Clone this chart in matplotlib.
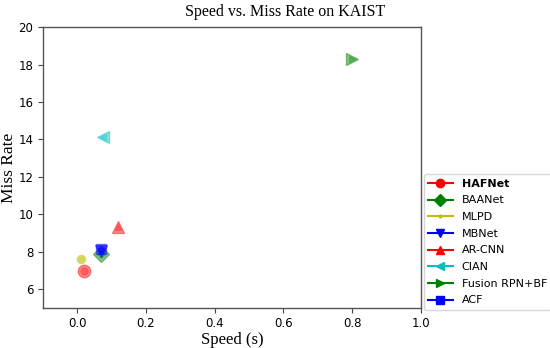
import matplotlib.pyplot as plt
from matplotlib.lines import Line2D

methods = ['HAFNet', 'BAANet', 'MLPD', 'MBNet', 'AR-CNN', 'CIAN', 'Fusion RPN+BF', 'ACF']
speed = [0.02, 0.07, 0.012, 0.07, 0.12, 0.075, 0.80, 0.07]
miss_rate = [6.95, 7.85, 7.58, 8.05, 9.32, 14.13, 18.29, 8.15]
colors = ['r', 'g', 'y', 'b', 'r', 'c', 'g', 'b']
markers = ['o', 'D', '.', 'v', '^', '<', '>', 's']
sizes = [9, 8, 12, 8, 9, 9, 9, 7]

fig = plt.figure(figsize=(5.5, 3.48), dpi=100)
ax = fig.add_axes([0.078, 0.116, 0.687, 0.806])

handles = []
for i in range(len(methods)):
    ax.plot([speed[i]], [miss_rate[i]], marker=markers[i], color=colors[i],
            markersize=sizes[i], alpha=0.45, linestyle='none')
    ax.plot([speed[i]], [miss_rate[i]], marker=markers[i], color=colors[i],
            markersize=sizes[i] * 0.55, alpha=0.3, linestyle='none')
    handles.append(Line2D([0], [0], color=colors[i], marker=markers[i],
                          markersize=6 if markers[i] != '.' else 4, lw=1.5))

ax.set_xlim(-0.1, 1.0)
ax.set_ylim(5, 20)
ax.set_xticks([0.0, 0.2, 0.4, 0.6, 0.8, 1.0])
ax.set_yticks([6, 8, 10, 12, 14, 16, 18, 20])
ax.tick_params(labelsize=8.5, color='#444444')
for s in ax.spines.values():
    s.set_color('#555555')
    s.set_linewidth(1.0)
ax.set_xlabel('Speed (s)', fontfamily='Liberation Serif', fontsize=12, labelpad=1)
ax.set_ylabel('Miss Rate', fontfamily='Liberation Serif', fontsize=12.5, labelpad=1)
fig.text(285 / 550, 0.965, 'Speed vs. Miss Rate on KAIST', fontfamily='Liberation Serif',
         fontsize=11.5, ha='center', va='center')

leg = ax.legend(handles, methods, loc='lower left', bbox_to_anchor=(1.008, -0.008),
                fontsize=8, borderaxespad=0, handlelength=2.2, labelspacing=0.6)
leg.get_texts()[0].set_fontweight('bold')

fig.savefig('out.png')
